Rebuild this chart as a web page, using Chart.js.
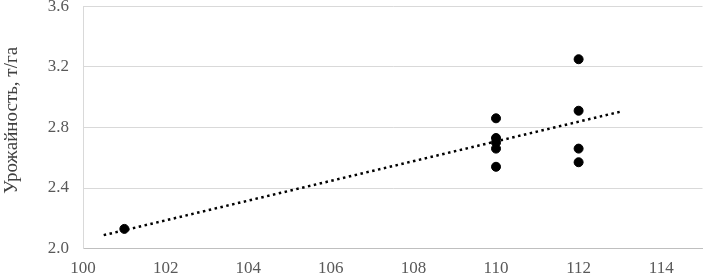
<!DOCTYPE html>
<html>
<head>
<meta charset="utf-8">
<script src="https://cdn.jsdelivr.net/npm/chart.js@4.4.1/dist/chart.umd.min.js"></script>
<style>
  html, body { margin: 0; padding: 0; background: #fff; }
  #wrap { width: 708px; height: 275px; position: relative; overflow: hidden; }
  /* the original picture is cropped at the top, so shift the canvas up a bit */
  #c { position: absolute; left: 0; top: -18px; }
</style>
</head>
<body>
<div id="wrap"><canvas id="c" width="708" height="307"></canvas></div>
<script>
// x: price index (?), y: yield t/ha
const xValues = [101, 110, 110, 110, 110, 110, 112, 112, 112, 112]
const yValues = [2.13, 2.86, 2.73, 2.70, 2.66, 2.54, 3.25, 2.91, 2.66, 2.57]
const yTicks = [2.0, 2.4, 2.8, 3.2, 3.6]
const xTickLabels = [100, 102, 104, 106, 108, 110, 112, 114]
const trendFrom = 100.5
const trendTo = 113
const yTitle = '   Урожайность, т/га'

const points = xValues.map((x, i) => ({ x: x, y: yValues[i] }))

// linear trend (least squares), like Excel's trendline
const n = points.length
const mx = xValues.reduce((a, b) => a + b, 0) / n
const my = yValues.reduce((a, b) => a + b, 0) / n
let sxy = 0, sxx = 0
for (let i = 0; i < n; i++) {
  sxy += (xValues[i] - mx) * (yValues[i] - my)
  sxx += (xValues[i] - mx) * (xValues[i] - mx)
}
const slope = sxy / sxx
const icpt = my - slope * mx
const trend = [trendFrom, trendTo].map(x => ({ x: x, y: icpt + slope * x }))

const serif = 'Liberation Serif'

new Chart(document.getElementById('c'), {
  type: 'scatter',
  data: {
    datasets: [{
      label: 'data',
      data: points,
      backgroundColor: '#000',
      borderColor: '#000',
      pointRadius: 4.5,
      pointHoverRadius: 4.5
    }, {
      type: 'line',
      label: 'trend',
      data: trend,
      borderColor: '#000',
      borderWidth: 2.5,
      borderDash: [2.5, 3.5],
      pointRadius: 0,
      fill: false
    }]
  },
  options: {
    responsive: false,
    animation: false,
    layout: { padding: { top: 0, right: 0, left: 0, bottom: 0 } },
    plugins: { legend: { display: false }, tooltip: { enabled: false } },
    scales: {
      x: {
        type: 'linear',
        min: 100,
        max: 115,
        grid: { display: false, drawTicks: false },
        border: { color: '#bfbfbf', width: 1 },
        afterBuildTicks: axis => { axis.ticks = xTickLabels.map(v => ({ value: v })) },
        ticks: { color: '#595959', padding: 10, maxRotation: 0, font: { family: serif, size: 17 } }
      },
      y: {
        min: yTicks[0],
        max: yTicks[yTicks.length - 1],
        afterBuildTicks: axis => { axis.ticks = yTicks.map(v => ({ value: v })) },
        grid: { color: '#d9d9d9', drawTicks: false },
        border: { color: '#d9d9d9', width: 1 },
        ticks: { color: '#595959', padding: 14, font: { family: serif, size: 17 }, callback: v => v.toFixed(1) },
        title: { display: true, text: yTitle, color: '#404040', font: { family: serif, size: 19 }, padding: { top: 1, bottom: 10 } }
      }
    }
  }
})
</script>
</body>
</html>
